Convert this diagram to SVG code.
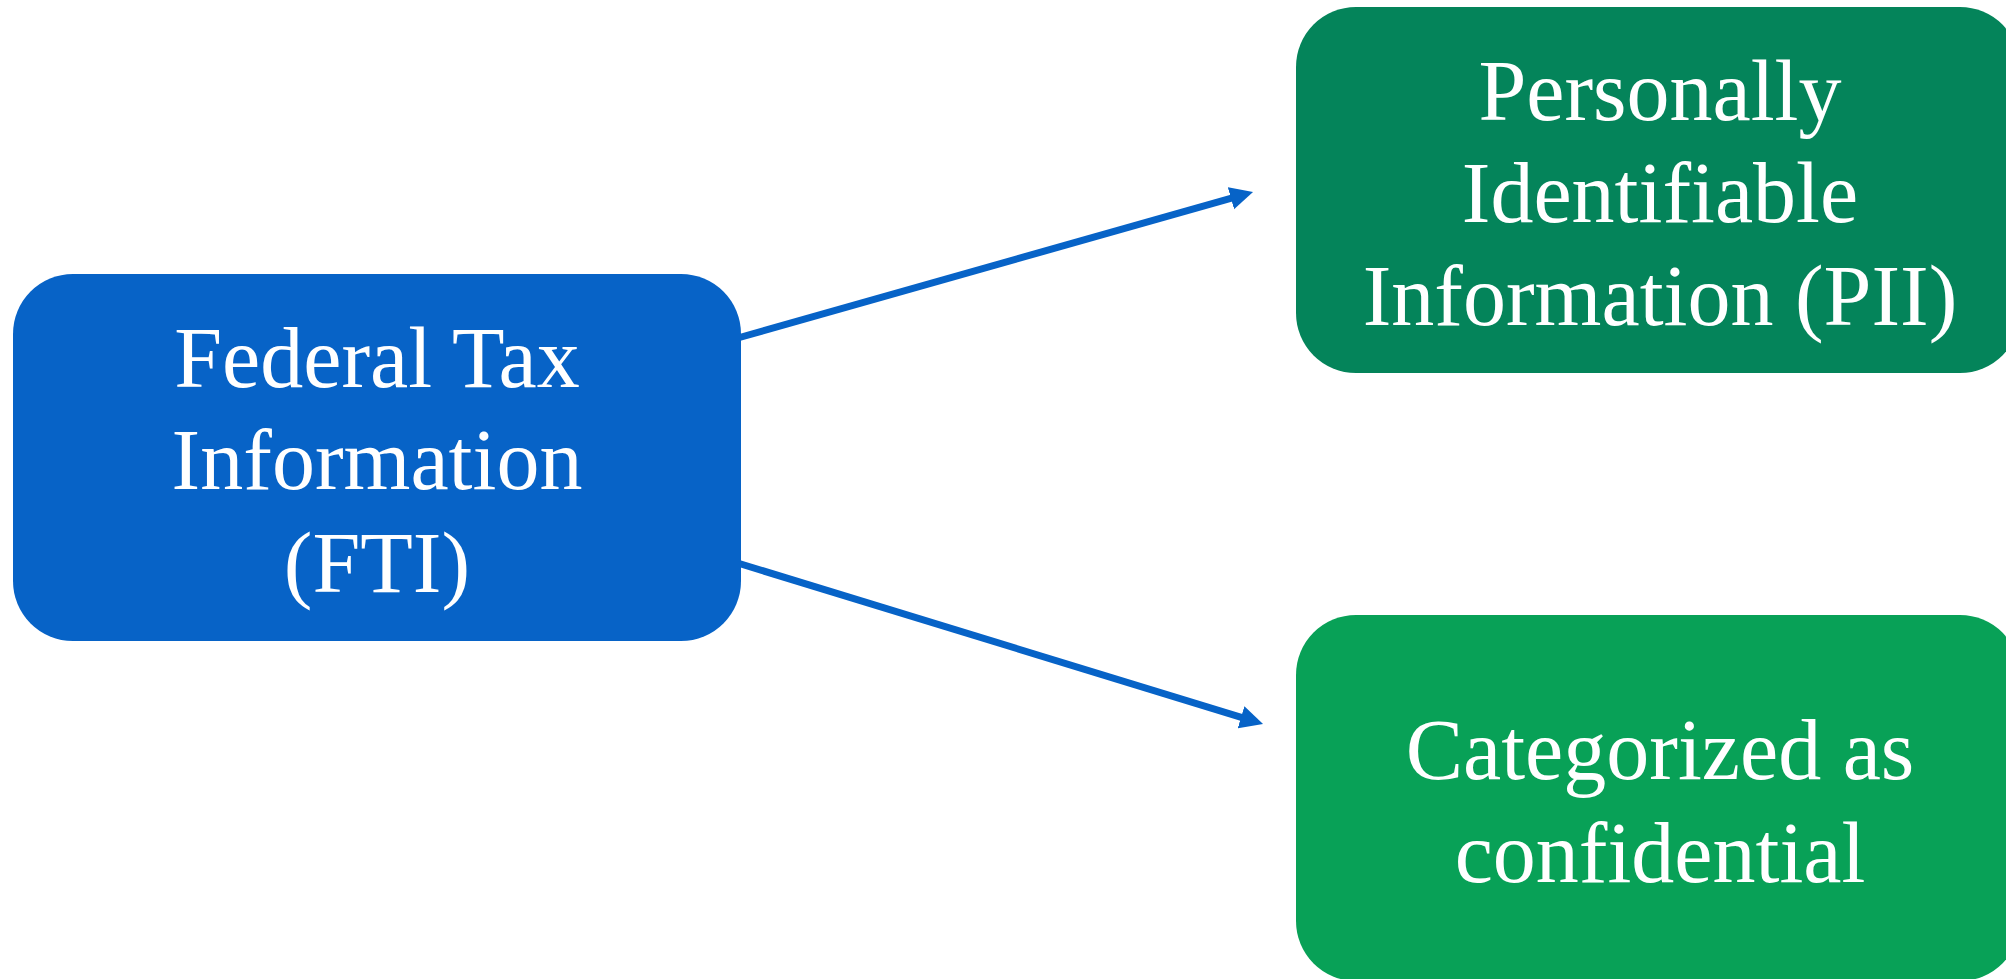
<svg xmlns="http://www.w3.org/2000/svg" width="2006" height="979" viewBox="0 0 2006 979">
  <style>
    .lbl { font-family: "Liberation Serif", "Times New Roman", serif; font-size: 86px; fill: #ffffff; text-anchor: middle; }
    .conn { stroke: #0763C7; stroke-width: 7; fill: none; }
  </style>
  <defs>
    <marker id="arrow" markerUnits="userSpaceOnUse" markerWidth="24" markerHeight="24" viewBox="0 0 24 24" refX="8" refY="12" orient="auto">
      <path d="M0,0.5 L23,12 L0,23.5 z" fill="#0763C7"/>
    </marker>
  </defs>
  <rect width="2006" height="979" fill="#ffffff"/>
  <g id="connectors">
    <line class="conn" x1="736" y1="338.5" x2="1238.6" y2="196.1" marker-end="url(#arrow)"/>
    <line class="conn" x1="736" y1="562.5" x2="1248.7" y2="719.6" marker-end="url(#arrow)"/>
  </g>
  <g id="fti">
    <rect x="13" y="274" width="728" height="367" rx="60" ry="60" fill="#0763C7"/>
    <text class="lbl" x="377" y="387">Federal Tax</text>
    <text class="lbl" x="377" y="489">Information</text>
    <text class="lbl" x="377" y="592">(FTI)</text>
  </g>
  <g id="pii">
    <rect x="1296" y="7" width="724" height="366" rx="60" ry="60" fill="#04845A"/>
    <text class="lbl" x="1660" y="120">Personally</text>
    <text class="lbl" x="1660" y="222">Identifiable</text>
    <text class="lbl" x="1660" y="325">Information (PII)</text>
  </g>
  <g id="confidential">
    <rect x="1296" y="615" width="724" height="366" rx="60" ry="60" fill="#08A157"/>
    <text class="lbl" x="1660" y="779">Categorized as</text>
    <text class="lbl" x="1660" y="882">confidential</text>
  </g>
</svg>
